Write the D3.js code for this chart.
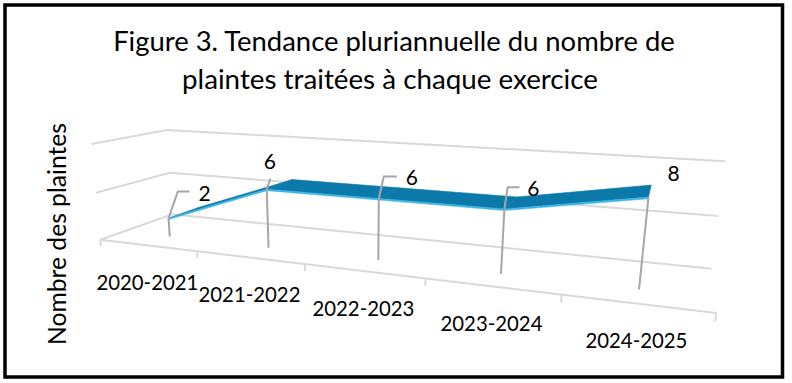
<!DOCTYPE html>
<html>
<head>
<meta charset="utf-8">
<script src="https://cdn.jsdelivr.net/npm/d3@7"></script>
<style>
  html, body { margin: 0; padding: 0; background: #fff; }
  svg { display: block; }
  text { font-family: Lato, "Open Sans", sans-serif; fill: #000; }
</style>
</head>
<body>
<svg id="chart" width="792" height="383"></svg>
<script>
// ---------------- data ----------------
const categories = ["2020-2021", "2021-2022", "2022-2023", "2023-2024", "2024-2025"];
const complaints = [2, 6, 6, 6, 8];
const yTicks = [0, 5, 10];
const titleLines = ["Figure 3. Tendance pluriannuelle du nombre de", "plaintes traitées à chaque exercice"];
const yAxisTitle = "Nombre des plaintes";

// ---------------- layout (camera calibration of the 3D box) ----------------
// world coords: X along categories [0,1], Y value [0,1], Z depth [0 front, 1 back]
const boxAnchors = [
  { w: [0, 0, 0], s: [101.7, 239.3] },
  { w: [0.2, 0, 0], s: [197.3, 250.8] },
  { w: [0.4, 0, 0], s: [305, 263.8] },
  { w: [0.6, 0, 0], s: [425, 278.2] },
  { w: [0.8, 0, 0], s: [561.7, 294.6] },
  { w: [1, 0, 0], s: [716.7, 313.3] },
  { w: [0, 0.5, 0], s: [96, 192.7] },
  { w: [0, 1, 0], s: [90, 145] },
  { w: [0, 0, 1], s: [170.5, 216] },
  { w: [0, 0.5, 1], s: [170.7, 171.7] },
  { w: [0, 1, 1], s: [168.3, 129.3] },
  { w: [1, 0, 1], s: [711.7, 268.3] },
  { w: [1, 0.5, 1], s: [718.3, 216] },
  { w: [1, 1, 1], s: [725, 161.7] }
];
const ribbonZ = [0.3, 0.74];
const ribbonThick = 0.015;
// manual data label placement (screen px relative to the point)
const labelLayout = [
  { elbow: [[9.3, -26.7], [21, -26.7]], text: [36, -25] },
  { elbow: [[3.7, -10.6]], text: [3, -28] },
  { elbow: [[5, -22], [18, -22]], text: [33, -21] },
  { elbow: [[3.3, -21.6], [15, -21.6]], text: [29, -20] },
  { elbow: [], text: [25, -24] }
];

function gaussSolve(A, b) {
  const n = b.length;
  const M = A.map((r, i) => r.concat([b[i]]));
  for (let c = 0; c < n; c++) {
    let piv = c;
    for (let r = c + 1; r < n; r++) if (Math.abs(M[r][c]) > Math.abs(M[piv][c])) piv = r;
    [M[c], M[piv]] = [M[piv], M[c]];
    for (let r = 0; r < n; r++) {
      if (r === c) continue;
      const f = M[r][c] / M[c][c];
      for (let k = c; k <= n; k++) M[r][k] -= f * M[c][k];
    }
  }
  return M.map((r, i) => r[n] / r[i]);
}

function fitProjection(anchors) {
  const N = 11, S = 400, cx = 400, cy = 200;
  const ATA = Array.from({ length: N }, () => new Array(N).fill(0));
  const ATb = new Array(N).fill(0);
  anchors.forEach(({ w: [X, Y, Z], s: [u0, v0] }) => {
    const u = (u0 - cx) / S, v = (v0 - cy) / S;
    const rows = [
      [[X, Y, Z, 1, 0, 0, 0, 0, -u * X, -u * Y, -u * Z], u],
      [[0, 0, 0, 0, X, Y, Z, 1, -v * X, -v * Y, -v * Z], v]
    ];
    rows.forEach(([r, bb]) => {
      for (let i = 0; i < N; i++) {
        ATb[i] += r[i] * bb;
        for (let j = 0; j < N; j++) ATA[i][j] += r[i] * r[j];
      }
    });
  });
  const p = gaussSolve(ATA, ATb);
  return ([X, Y, Z]) => {
    const den = p[8] * X + p[9] * Y + p[10] * Z + 1;
    const u = (p[0] * X + p[1] * Y + p[2] * Z + p[3]) / den;
    const v = (p[4] * X + p[5] * Y + p[6] * Z + p[7]) / den;
    return [u * S + cx, v * S + cy];
  };
}

const P = fitProjection(boxAnchors);

// ---------------- scales ----------------
const x = d3.scaleBand().domain(categories).range([0, 1]).padding(0);
const y = d3.scaleLinear().domain([0, 10]).range([0, 1]);
const xc = c => x(c) + x.bandwidth() / 2;

const svg = d3.select("#chart");
const line = d3.line();

function fitText(sel, size, target) {
  sel.attr("font-size", size);
  const w = sel.node().getComputedTextLength();
  sel.attr("font-size", size * target / w);
}

// ---------------- gridlines (walls) ----------------
const grid = svg.append("g").attr("fill", "none").attr("stroke", "#d9d9d9").attr("stroke-width", 2);
yTicks.forEach(t => {
  const yy = y(t);
  grid.append("path").attr("d", line([P([0, yy, 0]), P([0, yy, 1]), P([1, yy, 1])]));
});
// front floor edge + tick marks at category boundaries
grid.append("path").attr("d", line([P([0, 0, 0]), P([1, 0, 0])]));
const bounds = categories.map(c => x(c)).concat([1]);
bounds.forEach(b => {
  grid.append("path").attr("d", line([P([b, 0, 0]), P([b, -0.07, 0])]));
});

// ---------------- category labels ----------------
categories.forEach(c => {
  const [px, py] = P([xc(c), 0, 0]);
  const t = svg.append("text").attr("x", px).attr("y", py + 45).attr("text-anchor", "middle").text(c);
  fitText(t, 20, 102);
});

// ---------------- ribbon ----------------
const rib = svg.append("g");
const [zF, zB] = ribbonZ;
for (let i = 0; i < categories.length - 1; i++) {
  const x0 = xc(categories[i]), x1 = xc(categories[i + 1]);
  const y0 = y(complaints[i]), y1 = y(complaints[i + 1]);
  const top = [P([x0, y0, zF]), P([x1, y1, zF]), P([x1, y1, zB]), P([x0, y0, zB])];
  rib.append("path").attr("d", line(top) + "Z").attr("fill", "#0b7aab").attr("stroke", "#0b7aab").attr("stroke-width", 0.6).attr("stroke-linejoin", "round");
}
for (let i = 0; i < categories.length - 1; i++) {
  const x0 = xc(categories[i]), x1 = xc(categories[i + 1]);
  const y0 = y(complaints[i]), y1 = y(complaints[i + 1]);
  const front = [P([x0, y0, zF]), P([x1, y1, zF]), P([x1, y1 - ribbonThick, zF]), P([x0, y0 - ribbonThick, zF])];
  rib.append("path").attr("d", line(front) + "Z").attr("fill", "#3cb5e5").attr("stroke", "#3cb5e5").attr("stroke-width", 0.5);
}

// ---------------- leader lines + data labels ----------------
const lead = svg.append("g").attr("fill", "none").attr("stroke", "#a6a6a6").attr("stroke-width", 2);
categories.forEach((c, i) => {
  const base = P([xc(c), 0, zF]);
  const top = P([xc(c), y(complaints[i]), zF]);
  const L = labelLayout[i];
  const pts = [base, top].concat(L.elbow.map(([dx, dy]) => [top[0] + dx, top[1] + dy]));
  lead.append("path").attr("d", line(pts));
  svg.append("text")
    .attr("x", top[0] + L.text[0]).attr("y", top[1] + L.text[1])
    .attr("dy", "0.36em").attr("text-anchor", "middle")
    .attr("font-size", 21).text(complaints[i]);
});

// ---------------- titles ----------------
const t1 = svg.append("text").attr("x", 394).attr("y", 51).attr("text-anchor", "middle").text(titleLines[0]);
fitText(t1, 24, 562);
const t2 = svg.append("text").attr("x", 390).attr("y", 89).attr("text-anchor", "middle").text(titleLines[1]);
fitText(t2, 24, 416);
const ta = svg.append("text").attr("transform", "translate(66,234) rotate(-90)").attr("text-anchor", "middle").text(yAxisTitle);
fitText(ta, 22, 222);

// ---------------- border ----------------
svg.append("rect").attr("x", 5).attr("y", 5).attr("width", 777.5).attr("height", 372)
  .attr("fill", "none").attr("stroke", "#000").attr("stroke-width", 3.5);
</script>
</body>
</html>
